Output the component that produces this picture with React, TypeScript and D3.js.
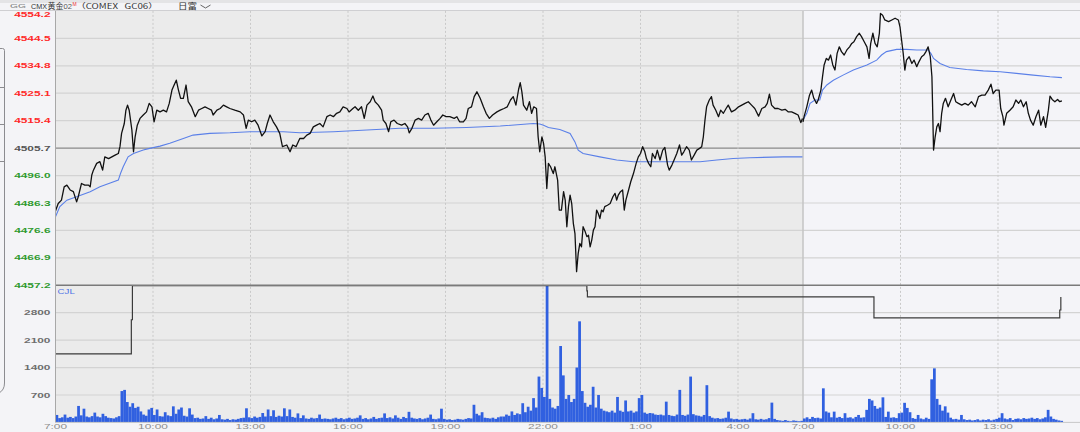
import React from "react";
import * as d3 from "d3";

// ---------- data ----------
const SESSION_MIN = 1380; // 7:00 -> 6:00 next day, minutes
const BUCKET_MIN = 5;
const PREV_CLOSE = 4505.7;

const priceTicks = [4554.2, 4544.5, 4534.8, 4525.1, 4515.4, 4505.7, 4496.0, 4486.3, 4476.6, 4466.9, 4457.2];
const volTicks = [700, 1400, 2100, 2800];
const timeTickMinutes = [0, 180, 360, 540, 720, 900, 1080, 1260, 1380, 1560, 1740];
const timeTickLabels = ["7:00", "10:00", "13:00", "16:00", "19:00", "22:00", "1:00", "4:00", "7:00", "10:00", "13:00"];

// [minutes since 7:00 of session, price]
const priceSession1: [number, number][] = [
  [0,4483.5],[5,4486.1],[11,4487.3],[16,4492.0],[21,4492.6],[27,4490.9],[33,4490.3],[39,4486.7],[42,4488.5],[48,4493.2],
  [54,4492.6],[61,4492.6],[64,4492.0],[67,4496.2],[70,4497.9],[76,4500.3],[82,4500.9],[87,4497.9],[91,4502.6],[98,4502.0],
  [104,4502.6],[110,4503.2],[116,4503.8],[119,4506.2],[122,4510.9],[127,4514.4],[130,4519.1],[133,4520.9],[136,4519.1],[141,4512.1],
  [144,4504.4],[147,4509.7],[151,4513.8],[156,4516.2],[162,4517.4],[168,4518.5],[173,4521.5],[178,4520.3],[182,4515.0],[187,4519.1],
  [193,4518.5],[199,4519.1],[205,4518.5],[210,4521.5],[215,4526.2],[219,4528.0],[223,4529.7],[227,4526.2],[231,4523.3],[236,4523.3],
  [241,4528.0],[245,4522.1],[251,4520.3],[258,4516.8],[264,4519.1],[270,4519.7],[276,4520.3],[282,4519.7],[288,4519.1],[291,4517.4],
  [298,4519.1],[304,4519.7],[310,4520.9],[316,4520.3],[322,4519.7],[331,4519.1],[341,4518.5],[347,4517.4],[352,4512.7],[356,4515.6],
  [362,4515.0],[368,4515.6],[374,4513.8],[381,4510.0],[387,4511.5],[391,4514.4],[396,4517.4],[402,4515.0],[408,4513.2],[414,4510.9],
  [419,4506.2],[427,4506.8],[433,4504.4],[438,4506.8],[444,4506.2],[451,4509.1],[458,4509.1],[464,4510.3],[470,4510.9],[476,4513.2],
  [482,4513.8],[488,4514.4],[494,4513.2],[501,4516.8],[507,4517.4],[513,4516.8],[519,4518.0],[525,4518.5],[531,4520.3],[538,4519.7],
  [542,4518.5],[549,4519.7],[553,4520.3],[559,4519.1],[565,4520.3],[570,4516.2],[575,4520.9],[581,4522.1],[586,4524.1],[590,4522.1],
  [596,4520.9],[602,4519.1],[605,4515.6],[610,4514.4],[615,4511.5],[619,4515.0],[625,4515.6],[631,4514.4],[639,4513.8],[645,4514.4],
  [650,4513.2],[653,4511.1],[658,4512.7],[664,4515.6],[670,4516.2],[676,4515.6],[682,4517.4],[688,4518.0],[693,4515.6],[698,4513.8],
  [704,4515.0],[710,4516.2],[715,4517.4],[721,4516.8],[728,4516.8],[736,4516.2],[741,4516.8],[746,4515.0],[753,4515.0],[758,4516.2],
  [762,4519.7],[768,4520.3],[773,4523.9],[778,4525.6],[784,4523.3],[790,4520.3],[795,4518.0],[801,4516.2],[807,4517.4],[815,4518.5],
  [821,4519.1],[828,4519.7],[834,4520.3],[840,4522.7],[845,4523.9],[850,4520.9],[855,4526.5],[858,4528.8],[861,4525.6],[864,4520.9],
  [870,4519.1],[875,4522.1],[879,4518.0],[883,4520.3],[888,4519.7],[891,4509.7],[894,4504.4],[898,4509.7],[901,4507.4],[904,4502.6],
  [907,4491.4],[910,4500.3],[914,4499.1],[919,4496.7],[922,4499.1],[927,4494.4],[930,4483.8],[934,4483.8],[938,4490.3],[941,4487.3],
  [944,4477.9],[947,4485.0],[950,4489.1],[953,4486.1],[956,4479.1],[959,4475.5],[962,4462.0],[965,4468.5],[968,4472.0],[971,4470.8],
  [974,4477.9],[978,4476.1],[981,4474.4],[984,4474.9],[987,4470.8],[990,4473.2],[993,4476.7],[996,4477.9],[999,4483.8],[1002,4482.6],
  [1005,4480.8],[1008,4483.8],[1011,4483.2],[1014,4485.0],[1019,4485.5],[1024,4486.1],[1029,4488.5],[1033,4489.7],[1036,4487.3],[1039,4489.1],
  [1043,4490.3],[1047,4490.9],[1050,4483.8],[1053,4487.3],[1058,4490.9],[1062,4493.8],[1067,4496.7],[1072,4500.3],[1076,4502.6],[1080,4503.8],
  [1084,4506.2],[1088,4504.4],[1091,4502.0],[1095,4500.3],[1099,4499.1],[1102,4503.8],[1107,4502.0],[1111,4505.0],[1116,4501.5],[1121,4505.0],
  [1125,4505.9],[1130,4499.7],[1133,4497.9],[1138,4499.7],[1142,4501.5],[1147,4503.8],[1152,4506.8],[1156,4503.2],[1160,4504.4],[1165,4506.2],
  [1170,4505.0],[1174,4501.5],[1179,4503.2],[1184,4505.0],[1189,4505.6],[1193,4506.2],[1196,4509.7],[1199,4515.6],[1202,4520.3],[1207,4522.7],
  [1211,4523.9],[1214,4520.9],[1219,4519.1],[1224,4516.8],[1228,4519.1],[1233,4518.0],[1238,4519.7],[1242,4520.9],[1248,4518.5],[1254,4519.1],
  [1261,4520.3],[1267,4520.9],[1273,4521.5],[1279,4522.1],[1285,4520.9],[1291,4519.7],[1298,4517.0],[1304,4519.7],[1310,4520.3],[1314,4521.5],
  [1318,4524.8],[1322,4520.9],[1328,4519.7],[1334,4519.7],[1341,4519.1],[1347,4519.4],[1353,4518.5],[1359,4518.5],[1365,4518.0],[1371,4517.4],
  [1376,4514.7],[1379,4516.2]
];

const priceSession2: [number, number][] = [
  [0,4515.0],[2,4516.8],[7,4520.3],[12,4524.4],[16,4526.2],[20,4523.3],[25,4521.5],[28,4522.7],[33,4526.2],[36,4530.9],
  [39,4535.1],[43,4537.4],[47,4536.8],[51,4538.6],[55,4535.1],[59,4533.3],[63,4539.2],[67,4541.5],[71,4539.8],[76,4538.6],
  [81,4540.4],[86,4541.5],[90,4542.7],[94,4543.3],[99,4545.1],[104,4546.3],[108,4545.1],[113,4543.3],[118,4541.5],[122,4537.4],
  [125,4542.7],[129,4546.3],[133,4542.7],[137,4541.5],[141,4546.3],[143,4553.3],[147,4552.7],[151,4551.0],[158,4550.4],[164,4551.0],
  [170,4551.6],[176,4551.0],[179,4548.6],[182,4543.9],[185,4539.2],[188,4533.3],[191,4536.8],[196,4538.0],[201,4535.6],[205,4536.8],
  [210,4534.5],[214,4536.2],[219,4538.0],[223,4538.6],[227,4539.8],[231,4541.5],[235,4538.0],[238,4530.9],[239,4522.7],[241,4505.0],
  [244,4509.7],[247,4513.2],[250,4514.4],[253,4511.5],[256,4518.0],[259,4521.5],[263,4523.3],[268,4520.3],[273,4522.7],[278,4525.0],
  [282,4522.1],[287,4521.5],[293,4520.9],[299,4521.5],[305,4520.9],[311,4522.1],[318,4520.3],[324,4523.9],[330,4524.4],[336,4524.4],
  [342,4526.2],[347,4528.3],[351,4525.0],[356,4526.2],[362,4526.2],[365,4519.7],[369,4516.8],[371,4513.8],[376,4518.0],[382,4519.1],
  [388,4520.3],[393,4522.7],[398,4521.5],[402,4522.7],[407,4520.3],[412,4522.1],[416,4518.0],[420,4515.6],[425,4513.8],[430,4516.8],
  [435,4519.1],[439,4513.8],[444,4516.8],[448,4513.0],[453,4519.1],[456,4524.1],[460,4522.9],[465,4522.1],[470,4522.9],[474,4522.1],
  [478,4522.4]
];

// average price line
const avgSession1: [number, number][] = [
  [0,4481.4],[8,4485.0],[21,4487.3],[39,4488.5],[64,4490.3],[82,4492.0],[101,4493.4],[116,4494.4],[120,4496.7],[125,4499.1],
  [134,4502.6],[144,4503.8],[162,4505.0],[174,4505.6],[193,4506.4],[211,4507.4],[236,4509.1],[254,4510.3],[285,4510.9],[322,4511.1],
  [359,4511.5],[421,4511.5],[451,4511.1],[513,4511.5],[575,4512.1],[636,4512.7],[698,4512.7],[759,4513.0],[821,4513.5],[882,4514.4],
  [894,4514.2],[901,4513.8],[910,4513.0],[931,4512.3],[950,4510.9],[959,4507.9],[965,4505.0],[974,4503.8],[1005,4502.6],[1036,4501.5],
  [1067,4500.9],[1159,4500.9],[1190,4500.9],[1221,4501.5],[1251,4502.0],[1282,4502.3],[1344,4502.6],[1379,4502.6]
];
const avgSession2: [number, number][] = [
  [0,4515.6],[7,4518.0],[13,4521.5],[22,4522.7],[31,4522.7],[36,4526.2],[44,4528.0],[56,4529.7],[74,4531.5],[93,4533.3],
  [118,4535.1],[136,4536.8],[145,4538.6],[154,4539.8],[173,4540.6],[191,4540.6],[210,4540.4],[231,4540.4],[236,4539.2],[241,4537.4],
  [253,4535.6],[271,4534.2],[302,4533.5],[333,4533.0],[364,4532.7],[394,4532.1],[425,4531.5],[456,4530.9],[478,4530.6]
];

// volume per 5-minute bucket
const volSession1 = [
  190,110,130,200,120,140,110,150,420,180,
  350,150,130,160,250,150,130,220,160,120,
  110,100,130,160,800,830,520,400,490,370,
  400,280,200,170,330,370,190,330,160,150,
  260,180,160,410,220,330,380,170,150,360,
  200,110,120,90,100,160,90,120,80,100,
  190,80,70,90,60,80,70,90,110,120,
  360,130,110,150,120,140,240,150,330,160,
  310,140,170,150,360,160,330,140,120,230,
  110,180,100,90,120,100,110,200,90,100,
  90,80,100,120,90,110,80,100,120,90,
  100,120,180,90,110,80,100,140,90,110,
  120,230,110,130,100,180,120,90,140,110,
  270,120,100,90,110,80,100,120,200,90,
  80,100,350,90,70,80,60,70,90,80,
  70,90,110,100,450,220,180,260,120,110,
  100,120,90,130,150,150,200,170,280,190,
  230,210,490,260,400,300,620,380,1170,880,
  650,3550,600,380,350,420,1950,1200,600,700,
  520,600,1400,2580,800,500,400,450,910,380,
  700,350,300,280,260,300,250,650,300,270,
  560,280,300,250,280,620,700,250,220,240,
  230,200,190,200,180,530,190,170,160,200,
  830,190,170,200,1170,210,180,170,150,190,
  950,160,120,100,110,90,100,120,275,100,
  80,90,70,80,90,70,100,235,80,70,
  90,70,80,110,505,90,60,50,40,60,
  40,30,50,40,30,40
];
const volSession2 = [
  100,130,90,140,110,120,100,870,280,250,
  130,275,120,140,110,235,120,130,100,140,
  190,120,130,320,600,560,420,350,380,640,
  140,275,120,130,110,235,250,500,370,260,
  110,90,190,100,80,120,90,1100,1380,600,
  450,300,410,250,120,80,90,70,190,80,
  60,70,50,60,80,50,70,60,80,50,
  70,90,120,235,100,80,110,60,90,100,
  80,110,90,100,120,90,110,80,100,130,
  320,150,90,70,50,40
];

// open interest step line (absolute minute index, value in volume-panel units)
const oiMinutes = [0, 140, 142, 981, 982, 1511, 1854, 1856];
const oiValues = [1750, 2620, 3490, 3360, 3204, 2667, 2870, 3204];

// ---------- layout ----------
const W = 1080, H = 432;
const X0 = 55.5, SESSION_PX = 747.5;
const PRICE_TOP = 10.9, PRICE_BOTTOM = 285.3, VOL_BOTTOM = 422.4;
const FONT = "'Liberation Sans', Arial, sans-serif";
const CJK = "'Noto Sans CJK SC', 'Liberation Sans', sans-serif";

function Stretch(props: { x: number; y: number; anchor?: string; fill: string; size?: number; weight?: string; sx?: number; children: any }) {
  const { x, y, anchor = "start", fill, size = 7, weight = "normal", sx = 1.7, children } = props;
  return (
    <text transform={`translate(${x},${y}) scale(${sx},1)`} textAnchor={anchor as any} fill={fill}
      fontSize={size} fontWeight={weight} fontFamily={FONT}>{children}</text>
  );
}

export default function App() {
  const x = d3.scaleLinear().domain([0, 2 * SESSION_MIN]).range([X0, X0 + 2 * SESSION_PX]);
  const yP = d3.scaleLinear().domain([4457.2, 4554.2]).range([PRICE_BOTTOM, PRICE_TOP]);
  const yV = d3.scaleLinear().domain([0, 3500]).range([VOL_BOTTOM, PRICE_BOTTOM]);

  const pLine = (offset: number) => d3.line<[number, number]>().x(d => x(d[0] + offset)).y(d => yP(d[1]));
  const oiLine = d3.line<number>().x((_, i) => x(oiMinutes[i])).y(v => yV(v)).curve(d3.curveStepAfter);

  const bw = x(BUCKET_MIN) - x(0);
  const xSplit = x(SESSION_MIN);

  const bars = [
    ...volSession1.map((v, i) => ({ m: i * BUCKET_MIN, v })),
    ...volSession2.map((v, i) => ({ m: SESSION_MIN + i * BUCKET_MIN, v })),
  ];

  return (
    <svg width={W} height={H} style={{ position: "fixed", left: 0, top: 0, display: "block" }}>
      <defs>
        <clipPath id="pclip"><rect x={X0} y={PRICE_TOP} width={W - X0} height={PRICE_BOTTOM - PRICE_TOP} /></clipPath>
        <clipPath id="vclip"><rect x={X0} y={PRICE_BOTTOM} width={W - X0} height={VOL_BOTTOM - PRICE_BOTTOM} /></clipPath>
      </defs>
      {/* backgrounds */}
      <rect x={0} y={0} width={W} height={H} fill="#f4f4f7" />
      <rect x={0} y={0} width={W} height={3} fill="#e4e4e6" />
      <rect x={X0} y={PRICE_TOP} width={xSplit - X0} height={VOL_BOTTOM - PRICE_TOP} fill="#ebebeb" />
      <rect x={xSplit} y={PRICE_TOP} width={W - xSplit} height={VOL_BOTTOM - PRICE_TOP} fill="#f4f4f8" />
      <line x1={0} x2={W} y1={10.5} y2={10.5} stroke="#cfcfd2" />

      {/* left side panel decoration */}
      <path d="M0,48.5 H2.5 Q4.5,48.5 4.5,50.5 V383 Q4.5,390 -1,393" fill="none" stroke="#8c8c90" />
      {[87.5, 124.5, 161.5].map(yy => <line key={yy} x1={0} x2={4.5} y1={yy} y2={yy} stroke="#8c8c90" />)}

      {/* horizontal grids */}
      {priceTicks.slice(1, -1).map(v => (
        <line key={v} x1={X0} x2={W} y1={yP(v)} y2={yP(v)}
          stroke={v === PREV_CLOSE ? "#8a8a8a" : "#d3d3d3"} strokeWidth={v === PREV_CLOSE ? 1.3 : 1.2} />
      ))}
      {volTicks.map(v => (
        <line key={v} x1={X0} x2={W} y1={yV(v)} y2={yV(v)} stroke="#d3d3d3" strokeWidth={1.2} />
      ))}
      {/* vertical grids */}
      {timeTickMinutes.slice(1).map(m => (
        m === SESSION_MIN ? (
          <line key={m} x1={x(m)} x2={x(m)} y1={PRICE_TOP} y2={VOL_BOTTOM} stroke="#c4c4c4" strokeWidth={1.5} />
        ) : (
          <line key={m} x1={x(m)} x2={x(m)} y1={PRICE_TOP} y2={VOL_BOTTOM} stroke="#c9c9c9" strokeDasharray="2,2" />
        )
      ))}

      {/* volume */}
      <g clipPath="url(#vclip)">
        {bars.map(b => (
          <rect key={b.m} x={x(b.m)} y={yV(b.v)} width={bw + 0.05} height={VOL_BOTTOM - yV(b.v)} fill="#3060e0" />
        ))}
        <path d={oiLine(oiValues) || ""} fill="none" stroke="#3a3a3a" strokeWidth={1.2} />
      </g>

      {/* price & average */}
      <g clipPath="url(#pclip)">
        <path d={pLine(0)(avgSession1) || ""} fill="none" stroke="#5b80e8" strokeWidth={1.1} />
        <path d={pLine(SESSION_MIN)(avgSession2) || ""} fill="none" stroke="#5b80e8" strokeWidth={1.1} />
        <path d={pLine(0)(priceSession1) || ""} fill="none" stroke="#111" strokeWidth={1.3} strokeLinejoin="round" />
        <path d={pLine(SESSION_MIN)(priceSession2) || ""} fill="none" stroke="#111" strokeWidth={1.3} strokeLinejoin="round" />
      </g>

      {/* frame lines */}
      <line x1={X0} x2={W} y1={PRICE_BOTTOM} y2={PRICE_BOTTOM} stroke="#7a7a7a" strokeWidth={1.5} />
      <line x1={X0} x2={W} y1={VOL_BOTTOM} y2={VOL_BOTTOM} stroke="#c8c8c8" />
      <line x1={X0} x2={X0} y1={PRICE_TOP} y2={VOL_BOTTOM} stroke="#a8a8a8" />

      {/* price axis labels */}
      {priceTicks.map(v => {
        const cy = Math.max(yP(v), 14);
        const color = v > PREV_CLOSE ? "#ff2a2a" : v < PREV_CLOSE ? "#2f9a2f" : "#555";
        return <Stretch key={v} x={50.5} y={cy + 2.6} anchor="end" fill={color} weight="bold">{v.toFixed(1)}</Stretch>;
      })}
      {volTicks.map(v => (
        <Stretch key={v} x={50.5} y={yV(v) + 2.6} anchor="end" fill="#6e6e6e" weight="bold">{String(v)}</Stretch>
      ))}
      <Stretch x={57.5} y={293.5} fill="#4f72e6" size={6.5} sx={1.5}>CJL</Stretch>

      {/* time axis labels */}
      {timeTickMinutes.map((m, i) => (
        <Stretch key={i} x={x(m)} y={429.3} anchor="middle" fill="#8c8c8c">{timeTickLabels[i]}</Stretch>
      ))}

      {/* title */}
      <text x={10} y={8.4} fontSize={6} fill="#777" fontFamily={FONT} textLength={16} lengthAdjust="spacingAndGlyphs">GG</text>
      <text x={31} y={8.8} fontSize={7.5} fill="#333" fontFamily={FONT} textLength={16} lengthAdjust="spacingAndGlyphs">CMX</text>
      <text x={47.5} y={9.2} fontSize={8} fill="#333" fontFamily={CJK}>黄金</text>
      <text x={63.5} y={8.8} fontSize={7.5} fill="#555" fontFamily={FONT} textLength={8.5} lengthAdjust="spacingAndGlyphs">02</text>
      <text x={72.5} y={6} fontSize={5} fill="#e33" fontFamily={FONT}>M</text>
      <text x={76} y={9} fontSize={7.5} fill="#333" fontFamily={CJK} textLength={82} lengthAdjust="spacingAndGlyphs" xmlSpace="preserve">（COMEX   GC06）</text>
      <text x={178} y={9.2} fontSize={8} fill="#333" fontFamily={CJK} textLength={19} lengthAdjust="spacingAndGlyphs">日富</text>
      <path d="M200.5,5 L205.5,8 L210.5,5" fill="none" stroke="#555" strokeWidth={0.9} />
    </svg>
  );
}
